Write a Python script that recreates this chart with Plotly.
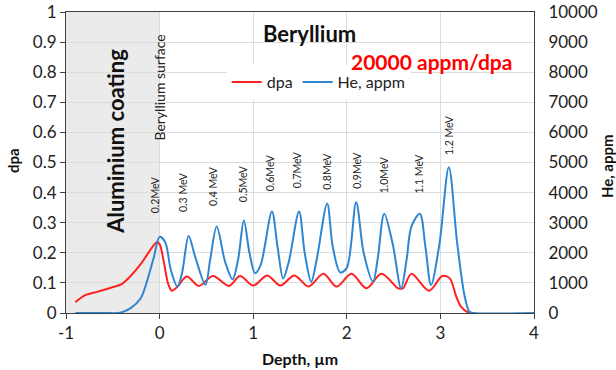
import plotly.graph_objects as go

# ---- data ----
dpa_x = [-0.9, -0.79, -0.66, -0.52, -0.41, -0.31, -0.2, -0.12, -0.03, 0.0, 0.045, 0.09, 0.13, 0.19,
         0.29, 0.42, 0.57, 0.74, 0.86, 1.0, 1.15, 1.29, 1.44, 1.59, 1.75, 1.89, 2.05, 2.21, 2.37,
         2.55, 2.6, 2.69, 2.88, 3.02, 3.1, 3.17, 3.22, 3.29, 3.33]
dpa_y = [0.036, 0.06, 0.071, 0.084, 0.095, 0.123, 0.163, 0.2, 0.235, 0.229, 0.17, 0.099, 0.074, 0.087,
         0.121, 0.09, 0.123, 0.09, 0.123, 0.091, 0.125, 0.091, 0.125, 0.088, 0.13, 0.088, 0.13, 0.082, 0.13,
         0.082, 0.082, 0.13, 0.074, 0.123, 0.115, 0.054, 0.021, 0.003, 0.0]

he_x = [-0.9, -0.6, -0.42, -0.31, -0.2, -0.13, -0.06, 0.0, 0.06, 0.12, 0.19, 0.24, 0.31, 0.38, 0.49,
        0.54, 0.61, 0.7, 0.78, 0.84, 0.9, 0.96, 1.02, 1.08, 1.2, 1.26, 1.32, 1.38, 1.49, 1.55, 1.62,
        1.68, 1.79, 1.85, 1.93, 2.0, 2.1, 2.18, 2.28, 2.33, 2.4, 2.49, 2.58, 2.64, 2.69, 2.78, 2.84,
        2.9, 2.99, 3.09, 3.18, 3.26, 3.31, 3.35, 4.0]
he_y = [0, 0, 10, 160, 500, 1100, 1870, 2530, 2350, 1430, 880, 1330, 2560, 1870, 940,
        1760, 2870, 1700, 1120, 1800, 3070, 2000, 1320, 1600, 3370, 2200, 1150, 1700, 3370, 2000, 1040,
        1800, 3640, 2200, 1350, 1500, 3680, 2000, 1040, 1800, 3300, 2300, 820, 1800, 2870, 3300, 2200,
        930, 2300, 4840, 2300, 540, 40, 0, 0]

energy_labels = ["0.2MeV", "0.3 MeV", "0.4 MeV", "0.5MeV", "0.6MeV", "0.7MeV", "0.8MeV",
                 "0.9MeV", "1.0MeV", "1.1 MeV", "1.2 MeV"]
energy_x = [-0.04, 0.25, 0.57, 0.89, 1.18, 1.47, 1.78, 2.1, 2.4, 2.77, 3.09]
energy_y = [0.326, 0.329, 0.349, 0.363, 0.396, 0.407, 0.402, 0.405, 0.39, 0.39, 0.518]

x_ticks = [-1, 0, 1, 2, 3, 4]
x_ticktext = ["-1", "0", "1", "2", "3", "4"]

RED = "#ff2020"
BLUE = "#2f86d1"
FONT = "Lato"

fig = go.Figure()
fig.add_trace(go.Scatter(x=dpa_x, y=dpa_y, name="dpa", mode="lines",
                         line=dict(color=RED, width=2, shape="spline", smoothing=0.9)))
fig.add_trace(go.Scatter(x=he_x, y=he_y, name="He, appm", mode="lines", yaxis="y2",
                         line=dict(color=BLUE, width=2, shape="spline", smoothing=0.9)))

# shaded coating region
fig.add_shape(type="rect", xref="x", yref="y", x0=-1, x1=0, y0=0, y1=1,
              fillcolor="#ebebeb", line=dict(width=0), layer="below")

annotations = []
for t, xx, yy in zip(energy_labels, energy_x, energy_y):
    annotations.append(dict(x=xx, y=yy, xref="x", yref="y", text=t, showarrow=False,
                            textangle=-90, xanchor="center", yanchor="bottom",
                            font=dict(family=FONT, size=10.5, color="#222")))
annotations += [
    dict(x=-0.48, y=0.571, xref="x", yref="y", text="<b>Aluminium coating</b>", showarrow=False,
         textangle=-90, xanchor="center", yanchor="middle", font=dict(family=FONT, size=22, color="#111")),
    dict(x=0.0, y=0.565, xref="x", yref="y", text="Beryllium surface", showarrow=False,
         textangle=-90, xanchor="center", yanchor="bottom", font=dict(family=FONT, size=14, color="#222")),
    dict(x=1.6, y=0.93, xref="x", yref="y", text="<b>Beryllium</b>", showarrow=False,
         xanchor="center", yanchor="middle", font=dict(family=FONT, size=22, color="#111")),
    dict(x=2.9, y=0.834, xref="x", yref="y", text="<b>20000 appm/dpa</b>", showarrow=False,
         xanchor="center", yanchor="middle", font=dict(family=FONT, size=21, color="#ff0000")),
    dict(x=-0.113, y=0.505, xref="paper", yref="paper", text="<b>dpa</b>", showarrow=False,
         textangle=-90, xanchor="center", yanchor="middle", font=dict(family=FONT, size=15, color="#111")),
    dict(x=1.156, y=0.488, xref="paper", yref="paper", text="<b>He, appm</b>", showarrow=False,
         textangle=-90, xanchor="center", yanchor="middle", font=dict(family=FONT, size=15, color="#111")),
    dict(x=0.5, y=-0.15, xref="paper", yref="paper", text="<b>Depth, µm</b>", showarrow=False,
         xanchor="center", yanchor="middle", font=dict(family=FONT, size=16, color="#111")),
]

fig.update_layout(
    width=616, height=370,
    margin=dict(l=66, r=82, t=12, b=57),
    paper_bgcolor="white", plot_bgcolor="white",
    font=dict(family=FONT, size=17, color="#222"),
    showlegend=True,
    legend=dict(orientation="h", x=0.54, y=0.767, xanchor="center", yanchor="middle",
                bgcolor="white", font=dict(family=FONT, size=16, color="#222")),
    xaxis=dict(range=[-1, 4], tickvals=x_ticks, ticktext=x_ticktext, showgrid=True, gridcolor="#dcdcdc",
               zeroline=False, showline=True, linecolor="#404040", linewidth=1, mirror=True,
               ticks="outside", ticklen=5, tickcolor="#404040", automargin=False),
    yaxis=dict(range=[0, 1], dtick=0.1, showgrid=True, gridcolor="#dcdcdc", zeroline=False,
               showline=True, linecolor="#404040", linewidth=1, mirror=True,
               ticks="outside", ticklen=5, tickcolor="#404040", automargin=False,
               ticklabeloverflow="allow"),
    yaxis2=dict(range=[0, 10000], dtick=1000, tickformat="d", overlaying="y", side="right", showgrid=False,
                zeroline=False, showline=True, linecolor="#404040", ticks="", ticklabelstandoff=10,
                automargin=False, ticklabeloverflow="allow"),
    annotations=annotations,
)

fig.write_html("out.html", config={"displayModeBar": False},
               post_script="document.body.style.margin='0';")
